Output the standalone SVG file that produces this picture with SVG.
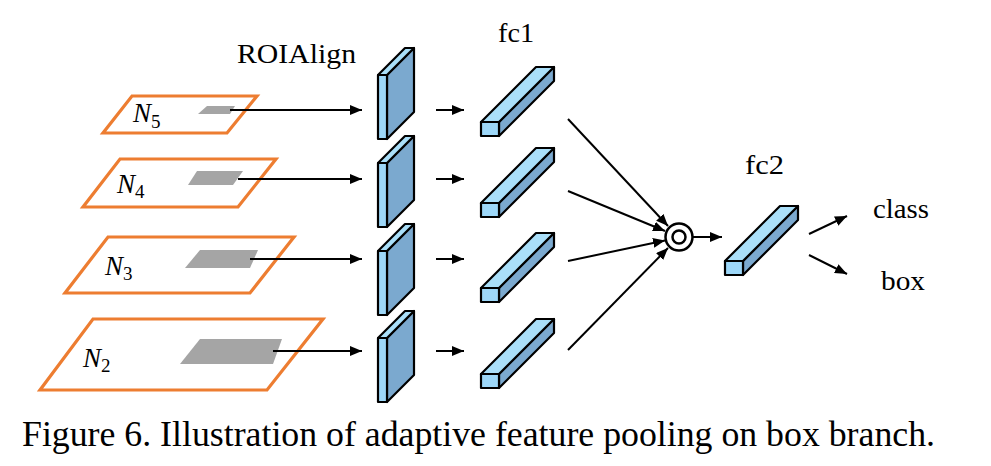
<svg xmlns="http://www.w3.org/2000/svg" width="991" height="466" viewBox="0 0 991 466">
<style>
.lvl{fill:#fff;stroke:#ED7D31;stroke-width:3.2;stroke-linejoin:miter}
.roi{fill:#A5A5A5}
.fr{fill:#9DD7F8;stroke:#000;stroke-width:2.2;stroke-linejoin:round}
.tp{fill:#AADFF9;stroke:#000;stroke-width:2.2;stroke-linejoin:round}
.sd{fill:#7BA9CF;stroke:#000;stroke-width:2.2;stroke-linejoin:round}
.c{stroke:#000;stroke-width:2;fill:none;marker-end:url(#ah)}
</style>
<defs>
<marker id="ah" markerUnits="userSpaceOnUse" markerWidth="12" markerHeight="10" viewBox="0 0 12 10" refX="12" refY="5" orient="auto">
<path d="M0,0 L12,5 L0,10 z" fill="#000"/>
</marker>
</defs>
<g id="level-N5">
<polygon class="lvl" points="132,96 257,96 227,133 103,133"/>
<polygon class="roi" points="207,106 235,106 230,114 198,114"/>
<text font-family="Liberation Serif" font-style="italic" font-size="27" x="133" y="122">N<tspan font-style="normal" font-size="19" dy="6">5</tspan></text>
</g>
<g id="level-N4">
<polygon class="lvl" points="120,159 276,159 238,207 83,207"/>
<polygon class="roi" points="197,171 243,171 233,185 188,185"/>
<text font-family="Liberation Serif" font-style="italic" font-size="27" x="117" y="193">N<tspan font-style="normal" font-size="19" dy="5">4</tspan></text>
</g>
<g id="level-N3">
<polygon class="lvl" points="108,237 294,237 250,293 65,293"/>
<polygon class="roi" points="200,250 258,250 250,268 185,268"/>
<text font-family="Liberation Serif" font-style="italic" font-size="27" x="105" y="275">N<tspan font-style="normal" font-size="19" dy="5">3</tspan></text>
</g>
<g id="level-N2">
<polygon class="lvl" points="93,319 323,319 267,390 40,390"/>
<polygon class="roi" points="200,339 282,339 273,364 180,364"/>
<text font-family="Liberation Serif" font-style="italic" font-size="27" x="83" y="367">N<tspan font-style="normal" font-size="19" dy="5">2</tspan></text>
</g>
<g id="roialign">
<text font-family="Liberation Serif" font-size="28" x="237" y="63" textLength="119" lengthAdjust="spacingAndGlyphs">ROIAlign</text>
<g id="roi-1"><polygon class="sd" points="387,75 414,48 414,112 387,139"/><polygon class="tp" points="378,75 387,75 414,48 405,48"/><rect class="fr" x="378" y="75" width="9" height="64"/></g>
<g id="roi-2"><polygon class="sd" points="387,163 414,136 414,200 387,227"/><polygon class="tp" points="378,163 387,163 414,136 405,136"/><rect class="fr" x="378" y="163" width="9" height="64"/></g>
<g id="roi-3"><polygon class="sd" points="387,251 414,224 414,288 387,315"/><polygon class="tp" points="378,251 387,251 414,224 405,224"/><rect class="fr" x="378" y="251" width="9" height="64"/></g>
<g id="roi-4"><polygon class="sd" points="387,338 414,311 414,375 387,402"/><polygon class="tp" points="378,338 387,338 414,311 405,311"/><rect class="fr" x="378" y="338" width="9" height="64"/></g>
</g>
<g id="fc1">
<text font-family="Liberation Serif" font-size="28" x="498" y="42" textLength="36" lengthAdjust="spacingAndGlyphs">fc1</text>
<g id="fc1-1"><polygon class="sd" points="499,122 554,67 554,81 499,136"/><polygon class="tp" points="481,122 499,122 554,67 536,67"/><rect class="fr" x="481" y="122" width="18" height="14"/></g>
<g id="fc1-2"><polygon class="sd" points="499,203 554,148 554,162 499,217"/><polygon class="tp" points="481,203 499,203 554,148 536,148"/><rect class="fr" x="481" y="203" width="18" height="14"/></g>
<g id="fc1-3"><polygon class="sd" points="499,288 554,233 554,247 499,302"/><polygon class="tp" points="481,288 499,288 554,233 536,233"/><rect class="fr" x="481" y="288" width="18" height="14"/></g>
<g id="fc1-4"><polygon class="sd" points="499,374 554,319 554,333 499,388"/><polygon class="tp" points="481,374 499,374 554,319 536,319"/><rect class="fr" x="481" y="374" width="18" height="14"/></g>
</g>
<g id="fuse">
<circle cx="679" cy="237" r="13.5" fill="#fff" stroke="#000" stroke-width="2.5"/>
<circle cx="679" cy="237" r="6.5" fill="none" stroke="#000" stroke-width="2.5"/>
</g>
<g id="fc2">
<text font-family="Liberation Serif" font-size="28" x="745" y="174" textLength="39" lengthAdjust="spacingAndGlyphs">fc2</text>
<polygon class="sd" points="743,261 798,206 798,220 743,275"/><polygon class="tp" points="725,261 743,261 798,206 780,206"/><rect class="fr" x="725" y="261" width="18" height="14"/>
</g>
<g id="outputs">
<text font-family="Liberation Serif" font-size="28" x="873" y="218" textLength="56" lengthAdjust="spacingAndGlyphs">class</text>
<text font-family="Liberation Serif" font-size="28" x="881" y="290" textLength="44" lengthAdjust="spacingAndGlyphs">box</text>
</g>
<g id="connectors">
<line class="c" x1="230" y1="110" x2="362" y2="110"/>
<line class="c" x1="238" y1="179" x2="362" y2="179"/>
<line class="c" x1="250" y1="259" x2="362" y2="259"/>
<line class="c" x1="273" y1="351" x2="362" y2="351"/>
<line class="c" x1="436" y1="110" x2="464" y2="110"/>
<line class="c" x1="436" y1="179" x2="464" y2="179"/>
<line class="c" x1="436" y1="259" x2="464" y2="259"/>
<line class="c" x1="436" y1="351" x2="464" y2="351"/>
<line class="c" x1="568" y1="119" x2="668" y2="226"/>
<line class="c" x1="568" y1="191" x2="665" y2="231"/>
<line class="c" x1="568" y1="261" x2="665" y2="240.5"/>
<line class="c" x1="568" y1="350" x2="668" y2="248"/>
<line class="c" x1="693" y1="237" x2="722" y2="237"/>
<line class="c" x1="809" y1="234" x2="847" y2="216"/>
<line class="c" x1="809" y1="255" x2="847" y2="274"/>
</g>
<text id="caption" font-family="Liberation Serif" font-size="35" x="22" y="446" textLength="913" lengthAdjust="spacingAndGlyphs">Figure 6. Illustration of adaptive feature pooling on box branch.</text>
</svg>
